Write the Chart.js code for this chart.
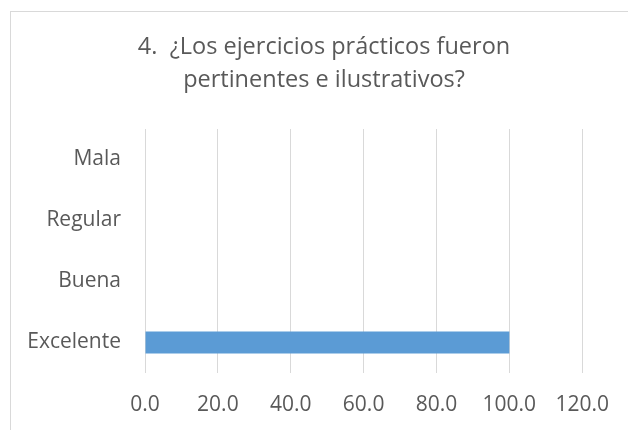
<!DOCTYPE html>
<html>
<head>
<meta charset="utf-8">
<script src="https://cdn.jsdelivr.net/npm/chart.js@4"></script>
<style>
  html, body { margin: 0; padding: 0; background: #ffffff; overflow: hidden; }
  #frame { position: absolute; left: 10px; top: 11px; width: 700px; height: 500px; border: 1px solid #d9d9d9; box-sizing: border-box; }
  #wrap { position: absolute; left: 0; top: 0; width: 628px; height: 430px; }
</style>
</head>
<body>
<div id="frame"></div>
<div id="wrap"><canvas id="c" width="628" height="430"></canvas></div>
<script>
const categories = ['Excelente', 'Buena', 'Regular', 'Mala'];
const values = [100, 0, 0, 0];
const titleLines = ['4.  ¿Los ejercicios prácticos fueron', 'pertinentes e ilustrativos?'];
const xMin = 0, xMax = 120, xStep = 20;

const textColor = '#595959';
const fontFamily = '"Open Sans", "Liberation Sans", sans-serif';

// Title drawn centred over the whole chart frame (which extends past the right edge of the picture)
const centredTitle = {
  id: 'centredTitle',
  afterDraw(chart, args, opts) {
    const ctx = chart.ctx;
    ctx.save();
    ctx.fillStyle = opts.color;
    ctx.font = `normal ${opts.size}px ${opts.family}`;
    ctx.textAlign = 'center';
    ctx.textBaseline = 'middle';
    opts.lines.forEach((line, i) => {
      ctx.fillText(line, opts.centerX, opts.firstY + i * opts.lineGap);
    });
    ctx.restore();
  }
};

new Chart(document.getElementById('c'), {
  type: 'bar',
  data: {
    labels: categories,
    datasets: [{
      data: values,
      backgroundColor: '#5b9bd5',
      borderWidth: 0,
      barPercentage: 0.36,
      categoryPercentage: 1.0
    }]
  },
  options: {
    indexAxis: 'y',
    responsive: false,
    animation: false,
    layout: { padding: { left: 10, right: 45, top: 129, bottom: 0 } },
    plugins: {
      legend: { display: false },
      tooltip: { enabled: false },
      title: { display: false },
      centredTitle: {
        lines: titleLines,
        color: textColor,
        family: fontFamily,
        size: 23.5,
        centerX: 324,
        firstY: 47,
        lineGap: 33
      }
    },
    scales: {
      x: {
        min: xMin, max: xMax,
        border: { display: false },
        grid: { color: '#d9d9d9', lineWidth: 1, drawTicks: false },
        ticks: {
          stepSize: xStep,
          color: textColor,
          font: { family: fontFamily, size: 21 },
          padding: 19,
          maxRotation: 0,
          callback: (v) => Number(v).toFixed(1)
        },
        afterFit: (s) => { s.height = 57; }
      },
      y: {
        reverse: true,
        border: { display: false },
        grid: { display: false, drawTicks: false },
        ticks: {
          color: textColor,
          font: { family: fontFamily, size: 21 },
          padding: 24
        },
        afterFit: (s) => { s.width = 135; }
      }
    }
  },
  plugins: [centredTitle]
});
</script>
</body>
</html>
